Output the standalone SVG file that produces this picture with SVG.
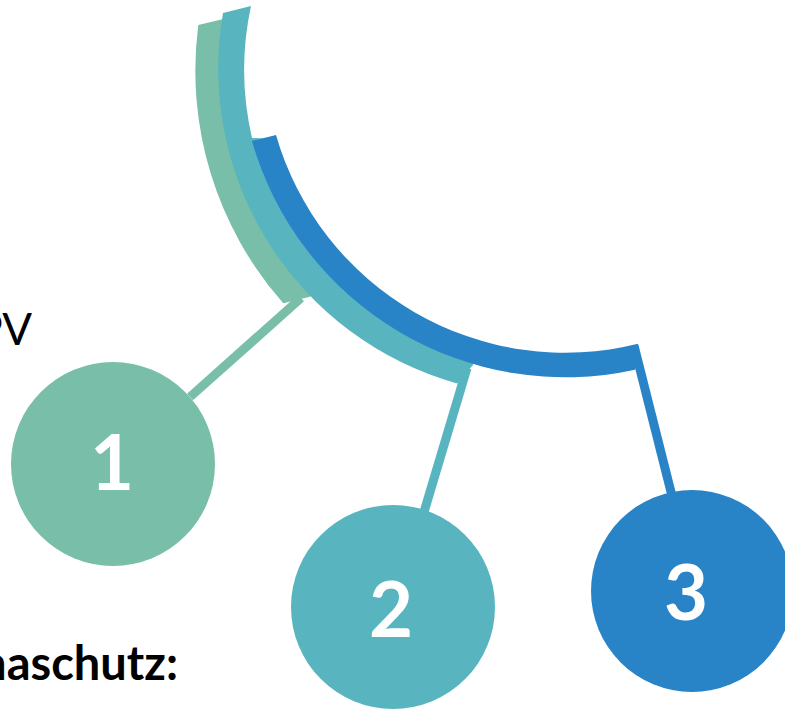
<svg xmlns="http://www.w3.org/2000/svg" width="785" height="709" viewBox="0 0 785 709">
<style>
.g{fill:#78BEA8}.t{fill:#58B5C0}.b{fill:#2983C7}
.gl{stroke:#78BEA8}.tl{stroke:#58B5C0}.bl{stroke:#2983C7}
.c line{stroke-width:9;stroke-linecap:butt;fill:none}
.num{font-family:Lato,"Open Sans","Liberation Sans",sans-serif;font-weight:bold;font-size:76px;fill:#fff;text-anchor:middle}
.lbl{font-family:Lato,"Open Sans","Liberation Sans",sans-serif;fill:#000}
</style>
<rect width="785" height="709" fill="#fff"/>
<g id="arcs">
<path id="arc1" class="g" d="M198.3,25 A351.5,351.5 0 0 0 283.3,303.3 L310,296.7 L320,290 A315,315 0 0 1 236,16 Z"/>
<path id="arc2" class="t" d="M223,13 A327,327 0 0 0 457,383.5 L473,365 L476,352 A313,313 0 0 1 265,138.5 L252,138 A302,302 0 0 1 251,6 Z"/>
<path id="arc3" class="b" d="M252,141 A325.5,325.5 0 0 0 635,369.7 L638,343.8 A301,301 0 0 1 276,135 Z"/>
</g>
<g id="connectors" class="c">
<line class="gl" x1="301" y1="298" x2="190" y2="397"/>
<line class="tl" x1="467" y1="368" x2="424" y2="512"/>
<line class="bl" x1="634" y1="345.5" x2="672" y2="496"/>
</g>
<g id="node1">
<circle class="g" cx="113" cy="464" r="102"/>
<text class="num" x="112" y="490">1</text>
</g>
<g id="node2">
<circle class="t" cx="393" cy="607" r="102"/>
<text class="num" x="391" y="637">2</text>
</g>
<g id="node3">
<circle class="b" cx="692" cy="591" r="101"/>
<text class="num" x="686" y="620">3</text>
</g>
<g id="labels">
<text class="lbl" x="32" y="345" font-size="44" text-anchor="end">PV</text>
<text class="lbl" x="178" y="680" font-size="47" font-weight="bold" text-anchor="end">maschutz:</text>
</g>
</svg>
